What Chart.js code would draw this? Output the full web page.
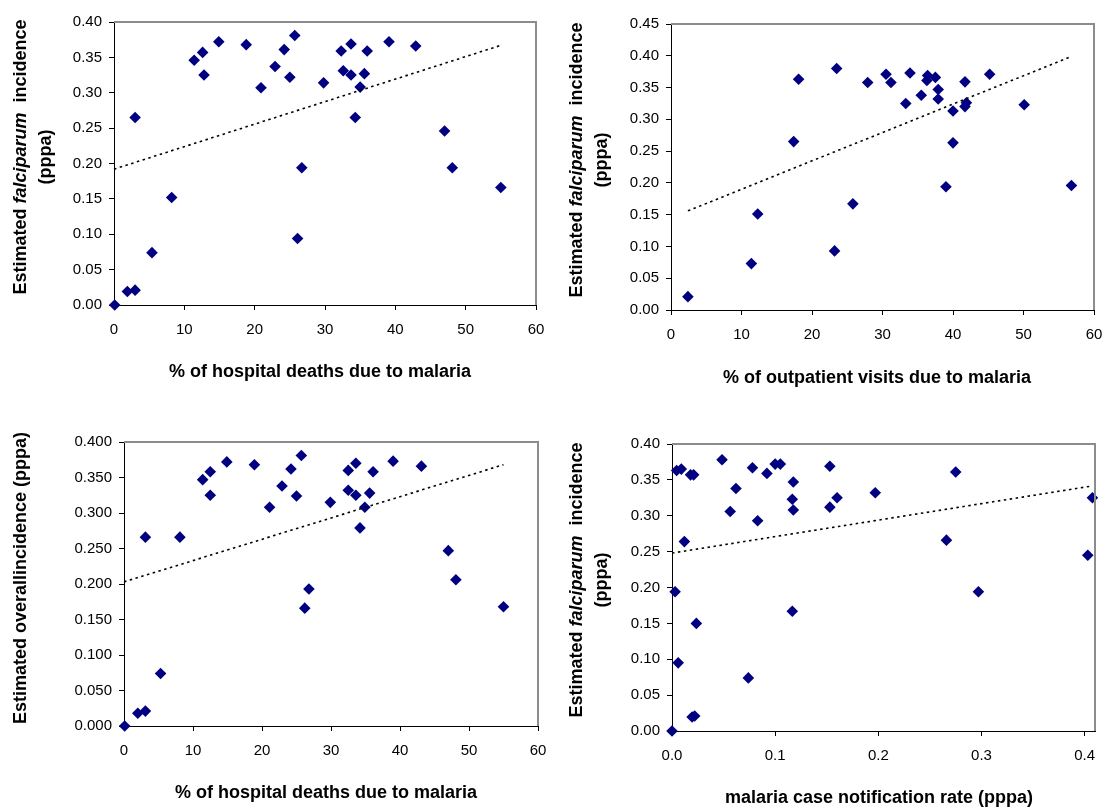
<!DOCTYPE html>
<html><head><meta charset="utf-8">
<script src="https://cdn.jsdelivr.net/npm/chart.js@4/dist/chart.umd.min.js"></script>
<style>
html,body{margin:0;padding:0;background:#fff;}
body{width:1103px;height:809px;position:relative;overflow:hidden;}
canvas{position:absolute;}
</style></head><body>
<canvas id="c1" width="551" height="404" style="left:0;top:0"></canvas>
<canvas id="c2" width="552" height="404" style="left:551px;top:0"></canvas>
<canvas id="c3" width="551" height="405" style="left:0;top:404px"></canvas>
<canvas id="c4" width="552" height="405" style="left:551px;top:404px"></canvas>
<script>
// ---- Panel 1: % hospital deaths vs falciparum incidence
const deathsPct1 = [0.1, 1.9, 3.0, 3.0, 5.4, 8.2, 11.4, 12.6, 12.8, 14.9, 18.8, 20.9, 22.9, 24.2, 25.0, 25.7, 26.1, 26.7, 29.8, 32.3, 32.6, 33.7, 33.7, 34.3, 35.0, 35.6, 36.0, 39.1, 42.9, 47.0, 48.1, 55.0];
const falcInc1   = [0.000, 0.019, 0.021, 0.265, 0.074, 0.152, 0.346, 0.357, 0.325, 0.372, 0.368, 0.307, 0.337, 0.361, 0.322, 0.381, 0.094, 0.194, 0.314, 0.359, 0.331, 0.369, 0.325, 0.265, 0.308, 0.327, 0.359, 0.372, 0.366, 0.246, 0.194, 0.166];
const trendX1 = [0, 55];
const trendY1 = [0.192, 0.367];

// ---- Panel 2: % outpatient visits vs falciparum incidence
const outpatPct2 = [2.4, 11.4, 12.3, 17.4, 18.1, 23.2, 23.5, 25.8, 27.9, 30.5, 31.2, 33.3, 33.9, 35.5, 36.3, 36.4, 37.5, 37.9, 37.9, 39.0, 40.0, 40.0, 41.7, 41.7, 41.9, 45.2, 50.1, 56.8];
const falcInc2   = [0.021, 0.073, 0.151, 0.265, 0.363, 0.093, 0.380, 0.167, 0.358, 0.371, 0.358, 0.325, 0.373, 0.338, 0.361, 0.369, 0.366, 0.347, 0.332, 0.194, 0.313, 0.263, 0.359, 0.320, 0.326, 0.371, 0.323, 0.196];
const trendX2 = [2.4, 56.8];
const trendY2 = [0.156, 0.399];

// ---- Panel 3: % hospital deaths vs overall incidence
const deathsPct3 = [0.1, 2.0, 3.1, 3.1, 5.3, 8.1, 11.4, 12.5, 12.5, 14.9, 18.9, 21.1, 22.9, 24.2, 25.0, 25.7, 26.2, 26.8, 29.9, 32.5, 32.5, 33.6, 33.6, 34.2, 34.9, 35.6, 36.1, 39.0, 43.1, 47.0, 48.1, 55.0];
const overallInc3 = [0.000, 0.018, 0.021, 0.266, 0.074, 0.266, 0.347, 0.358, 0.325, 0.372, 0.368, 0.308, 0.338, 0.362, 0.324, 0.381, 0.166, 0.193, 0.315, 0.360, 0.332, 0.370, 0.325, 0.279, 0.308, 0.328, 0.358, 0.373, 0.366, 0.247, 0.206, 0.168];
const trendX3 = [0, 55];
const trendY3 = [0.203, 0.368];

// ---- Panel 4: notification rate vs falciparum incidence
const notifRate4 = [0.000, 0.003, 0.006, 0.0045, 0.009, 0.012, 0.018, 0.021, 0.0195, 0.022, 0.0236, 0.0485, 0.0564, 0.062, 0.074, 0.078, 0.083, 0.092, 0.100, 0.105, 0.1166, 0.1166, 0.1176, 0.1176, 0.153, 0.153, 0.160, 0.197, 0.266, 0.275, 0.297, 0.403, 0.4075];
const falcInc4   = [0.000, 0.194, 0.095, 0.363, 0.365, 0.264, 0.357, 0.357, 0.0195, 0.021, 0.150, 0.378, 0.306, 0.338, 0.074, 0.367, 0.293, 0.359, 0.372, 0.372, 0.323, 0.167, 0.347, 0.308, 0.369, 0.312, 0.325, 0.332, 0.266, 0.361, 0.194, 0.245, 0.325];
const trendX4 = [0, 0.405];
const trendY4 = [0.248, 0.341];

// ---- Tick values
const pctTicks = [0, 10, 20, 30, 40, 50, 60];
const rateTicks = [0, 0.1, 0.2, 0.3, 0.4];
const incTicks40 = [0, 0.05, 0.10, 0.15, 0.20, 0.25, 0.30, 0.35, 0.40];
const incTicks45 = [0, 0.05, 0.10, 0.15, 0.20, 0.25, 0.30, 0.35, 0.40, 0.45];

const FONT = "'Liberation Sans', Arial, Helvetica, sans-serif";
const NAVY = '#000080';

const titlePlugin = {
  id: 'panelTitles',
  afterDraw(chart, args, opts) {
    const ctx = chart.ctx;
    ctx.save();
    ctx.fillStyle = '#000';
    ctx.textBaseline = 'middle';
    (opts.yLines || []).forEach(line => {
      let total = 0;
      line.segs.forEach(s => {
        ctx.font = (s.it ? 'italic ' : '') + 'bold 18px ' + FONT;
        s.w = ctx.measureText(s.t).width; total += s.w;
      });
      ctx.save();
      ctx.translate(line.x, opts.yCenter);
      ctx.rotate(-Math.PI / 2);
      let cx = -total / 2;
      ctx.textAlign = 'left';
      line.segs.forEach(s => {
        ctx.font = (s.it ? 'italic ' : '') + 'bold 18px ' + FONT;
        ctx.fillText(s.t, cx, 0);
        cx += s.w;
      });
      ctx.restore();
    });
    if (opts.xTitle) {
      ctx.font = 'bold 18px ' + FONT;
      ctx.textAlign = 'center';
      ctx.fillText(opts.xTitle.text, opts.xTitle.x, opts.xTitle.y);
    }
    const a = chart.chartArea;
    ctx.strokeStyle = '#8c8c8c';
    ctx.lineWidth = 2;
    ctx.beginPath();
    ctx.moveTo(a.left, a.top);
    ctx.lineTo(a.right, a.top);
    ctx.lineTo(a.right, a.bottom);
    ctx.stroke();
    ctx.restore();
  }
};

function pts(xs, ys) { return xs.map((x, i) => ({x: x, y: ys[i]})); }

function makeChart(id, o) {
  return new Chart(document.getElementById(id), {
    type: 'scatter',
    data: {
      datasets: [
        {
          data: pts(o.trendX, o.trendY), showLine: true, pointRadius: 0,
          borderColor: '#000', borderWidth: 1.6, borderDash: [2.5, 3.5], fill: false, clip: false
        },
        {
          data: pts(o.xs, o.ys), pointStyle: 'rectRot', pointRadius: 5.8,
          backgroundColor: NAVY, borderColor: NAVY, borderWidth: 0, clip: false
        }
      ]
    },
    options: {
      responsive: false, animation: false, devicePixelRatio: 1, events: [],
      layout: { padding: o.pad },
      plugins: {
        legend: { display: false }, tooltip: { enabled: false },
        panelTitles: o.titles
      },
      scales: {
        x: {
          type: 'linear', min: o.xMin, max: o.xMax,
          afterBuildTicks: s => { s.ticks = o.xTicks.map(v => ({value: v})); },
          afterFit: s => { s.height = o.xH; s.paddingLeft = 0; s.paddingRight = 0; },
          grid: { drawOnChartArea: false, drawTicks: true, tickLength: 5, color: '#000', lineWidth: 1 },
          border: { display: true, color: '#000', width: 1 },
          ticks: { color: '#000', font: { family: FONT, size: 15 }, padding: 11, maxRotation: 0,
                   callback: v => o.xFmt(v) }
        },
        y: {
          type: 'linear', min: 0, max: o.yMax,
          afterBuildTicks: s => { s.ticks = o.yTicks.map(v => ({value: v})); },
          afterFit: s => { s.width = o.yW; s.paddingTop = 0; s.paddingBottom = 0; },
          grid: { drawOnChartArea: false, drawTicks: true, tickLength: 5, color: '#000', lineWidth: 1 },
          border: { display: true, color: '#000', width: 1 },
          ticks: { color: '#000', font: { family: FONT, size: 15 }, padding: 7,
                   callback: v => o.yFmt(v) }
        }
      }
    },
    plugins: [titlePlugin]
  });
}

const falcLines = (x1, x2) => [
  { x: x1, segs: [{t: 'Estimated '}, {t: 'falciparum', it: true}, {t: '  incidence'}] },
  { x: x2, segs: [{t: '(pppa)'}] }
];

makeChart('c1', {
  xs: deathsPct1, ys: falcInc1, trendX: trendX1, trendY: trendY1,
  xMin: 0, xMax: 60, xTicks: pctTicks, xFmt: v => String(Math.round(v)),
  yMax: 0.40, yTicks: incTicks40, yFmt: v => v.toFixed(2),
  pad: { left: 0, top: 22, right: 15, bottom: 0 }, yW: 114, xH: 99,
  titles: { yLines: falcLines(21, 46), yCenter: 157,
            xTitle: { text: '% of hospital deaths due to malaria', x: 320, y: 372 } }
});

makeChart('c2', {
  xs: outpatPct2, ys: falcInc2, trendX: trendX2, trendY: trendY2,
  xMin: 0, xMax: 60, xTicks: pctTicks, xFmt: v => String(Math.round(v)),
  yMax: 0.45, yTicks: incTicks45, yFmt: v => v.toFixed(2),
  pad: { left: 0, top: 24, right: 9, bottom: 0 }, yW: 120, xH: 94,
  titles: { yLines: falcLines(26, 51), yCenter: 160,
            xTitle: { text: '% of outpatient visits due to malaria', x: 326, y: 378 } }
});

makeChart('c3', {
  xs: deathsPct3, ys: overallInc3, trendX: trendX3, trendY: trendY3,
  xMin: 0, xMax: 60, xTicks: pctTicks, xFmt: v => String(Math.round(v)),
  yMax: 0.40, yTicks: incTicks40, yFmt: v => v.toFixed(3),
  pad: { left: 0, top: 38, right: 13, bottom: 0 }, yW: 124, xH: 83,
  titles: { yLines: [{ x: 21, segs: [{t: 'Estimated overallincidence (pppa)'}] }], yCenter: 174,
            xTitle: { text: '% of hospital deaths due to malaria', x: 326, y: 389 } }
});

makeChart('c4', {
  xs: notifRate4, ys: falcInc4, trendX: trendX4, trendY: trendY4,
  xMin: 0, xMax: 0.41, xTicks: rateTicks, xFmt: v => v.toFixed(1),
  yMax: 0.40, yTicks: incTicks40, yFmt: v => v.toFixed(2),
  pad: { left: 0, top: 40, right: 8, bottom: 0 }, yW: 121, xH: 78,
  titles: { yLines: falcLines(26, 51), yCenter: 176,
            xTitle: { text: 'malaria case notification rate (pppa)', x: 328, y: 394 } }
});
</script>
</body></html>
